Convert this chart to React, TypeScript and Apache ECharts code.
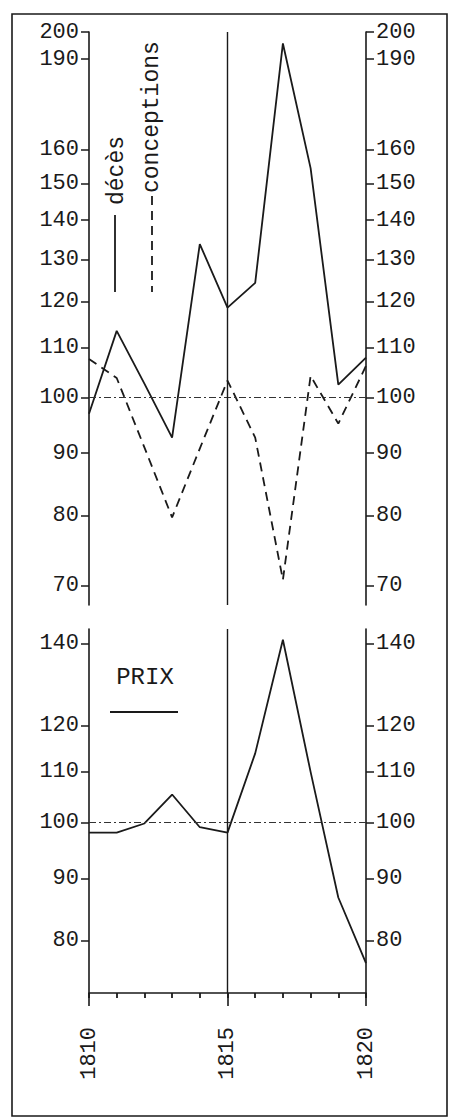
import React, { useEffect, useRef } from "react";
import * as echarts from "echarts";

const years = [1810, 1811, 1812, 1813, 1814, 1815, 1816, 1817, 1818, 1819, 1820];
const deces = [97.0, 113.5, 102.7, 92.7, 133.8, 118.6, 124.3, 195.7, 154.5, 102.5, 107.9];
const conceptions = [107.6, 103.8, 91.0, 79.7, 90.8, 103.3, 92.7, 70.8, 104.2, 95.2, 106.2];
const prix = [98.1, 98.1, 99.8, 105.4, 99.1, 98.1, 113.9, 141.1, 110.0, 86.8, 76.7];
const topTicks = [70, 80, 90, 100, 110, 120, 130, 140, 150, 160, 190, 200];
const bottomTicks = [80, 90, 100, 110, 120, 140];
const yearLabels = [1810, 1815, 1820];
const refValue = 100;
const refYear = 1815;

const INK = "#1a1a1a";
const FONT = '"Liberation Mono", "DejaVu Sans Mono", monospace';

const pairs = (vals: number[]) => years.map((y, i) => [y, vals[i]]);

const yAx = (grid: number, pos: string, min: number, max: number, ticks: number[]) => ({
  type: "log",
  logBase: 10,
  gridIndex: grid,
  position: pos,
  min,
  max,
  axisLine: { show: true, onZero: false, lineStyle: { color: INK, width: 1.6 } },
  axisTick: { show: true, customValues: ticks, length: 8, lineStyle: { color: INK, width: 1.5 } },
  axisLabel: {
    show: true,
    customValues: ticks,
    margin: 10,
    formatter: (v: number) => String(Math.round(v)),
    fontFamily: FONT,
    fontSize: 22,
    color: INK,
  },
  splitLine: { show: false },
  minorTick: { show: false },
  minorSplitLine: { show: false },
});

const refLines = {
  silent: true,
  symbol: "none",
  label: { show: false },
  data: [
    { yAxis: refValue, lineStyle: { type: [7, 3, 2, 3], width: 1.1, color: "#333" } },
    { xAxis: refYear, lineStyle: { type: "solid", width: 1.4, color: INK } },
  ],
};

export default function App() {
  const ref = useRef<HTMLDivElement>(null);
  useEffect(() => {
    if (!ref.current) return;
    const chart = echarts.init(ref.current, undefined, { renderer: "svg" });
    chart.setOption({
      animation: false,
      backgroundColor: "#ffffff",
      grid: [
        { left: 89, top: 32, width: 277, height: 573, outerBoundsMode: "none" },
        { left: 89, top: 629, width: 277, height: 364, outerBoundsMode: "none" },
      ],
      xAxis: [
        { gridIndex: 0, type: "value", min: 1810, max: 1820, show: false },
        {
          gridIndex: 1,
          type: "value",
          min: 1810,
          max: 1820,
          interval: 5,
          position: "bottom",
          axisLine: { show: true, onZero: false, lineStyle: { color: INK, width: 1.6 } },
          axisTick: { show: true, customValues: years, length: 5, lineStyle: { color: INK, width: 1.8 } },
          axisLabel: {
            customValues: yearLabels,
            rotate: 90,
            margin: 34,
            formatter: (v: number) => String(v),
            fontFamily: FONT,
            fontSize: 22,
            color: INK,
          },
          splitLine: { show: false },
        },
        {
          gridIndex: 1,
          type: "value",
          min: 1810,
          max: 1820,
          interval: 5,
          position: "bottom",
          axisLine: { show: false, onZero: false },
          axisTick: { show: true, customValues: yearLabels, length: 13, lineStyle: { color: INK, width: 1.6 } },
          axisLabel: { show: false },
          splitLine: { show: false },
        },
      ],
      yAxis: [
        yAx(0, "left", 67.5, 200, topTicks),
        yAx(0, "right", 67.5, 200, topTicks),
        yAx(1, "left", 72.5, 144, bottomTicks),
        yAx(1, "right", 72.5, 144, bottomTicks),
      ],
      series: [
        {
          name: "décès",
          type: "line",
          xAxisIndex: 0,
          yAxisIndex: 0,
          data: pairs(deces),
          symbol: "none",
          lineStyle: { color: INK, width: 1.8 },
          markLine: refLines,
        },
        {
          name: "conceptions",
          type: "line",
          xAxisIndex: 0,
          yAxisIndex: 0,
          data: pairs(conceptions),
          symbol: "none",
          lineStyle: { color: INK, width: 1.8, type: [9, 6] },
        },
        {
          name: "PRIX",
          type: "line",
          xAxisIndex: 1,
          yAxisIndex: 2,
          data: pairs(prix),
          symbol: "none",
          lineStyle: { color: INK, width: 1.8 },
          markLine: refLines,
        },
      ],
      graphic: [
        {
          type: "rect",
          silent: true,
          z: -10,
          shape: { x: 12, y: 14, width: 435, height: 1102 },
          style: { fill: "none", stroke: INK, lineWidth: 1.6 },
        },
        {
          type: "text",
          x: 117,
          y: 205,
          rotation: Math.PI / 2,
          style: { text: "décès", fontFamily: FONT, fontSize: 23, fill: INK, align: "left", verticalAlign: "middle" },
        },
        {
          type: "line",
          shape: { x1: 115, y1: 215, x2: 115, y2: 292 },
          style: { stroke: INK, lineWidth: 1.8 },
        },
        {
          type: "text",
          x: 152,
          y: 193,
          rotation: Math.PI / 2,
          style: { text: "conceptions", fontFamily: FONT, fontSize: 23, fill: INK, align: "left", verticalAlign: "middle" },
        },
        {
          type: "line",
          shape: { x1: 152, y1: 196, x2: 152, y2: 292 },
          style: { stroke: INK, lineWidth: 1.8, lineDash: [9, 6] },
        },
        {
          type: "text",
          x: 145,
          y: 677,
          style: { text: "PRIX", fontFamily: FONT, fontSize: 24, fill: INK, align: "center", verticalAlign: "middle" },
        },
        {
          type: "line",
          shape: { x1: 110, y1: 712, x2: 178, y2: 712 },
          style: { stroke: INK, lineWidth: 2 },
        },
      ],
    });
    return () => chart.dispose();
  }, []);
  return (
    <div
      ref={ref}
      style={{ position: "fixed", left: 0, top: 0, width: 449, height: 1119, background: "#fff" }}
    />
  );
}
